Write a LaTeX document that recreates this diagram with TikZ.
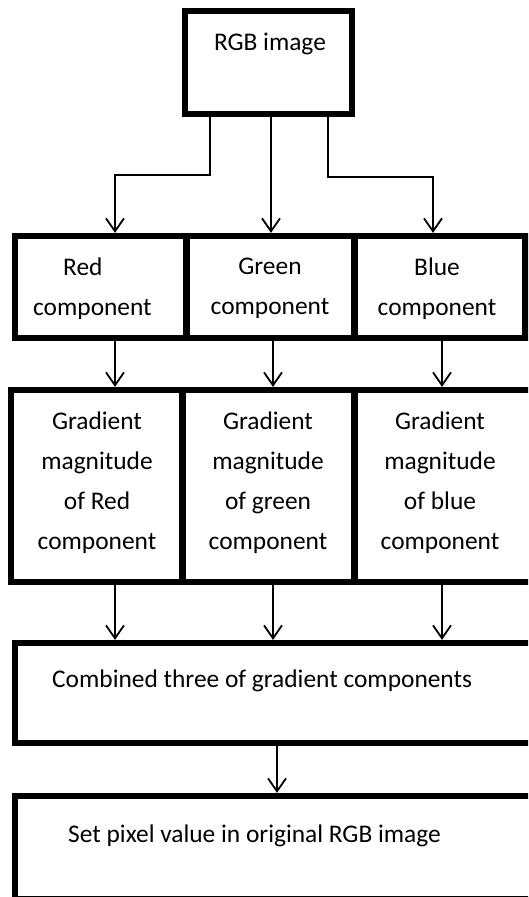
\documentclass[tikz,border=0pt]{standalone}
\usepackage{fontspec}
\setmainfont{Carlito}
\usetikzlibrary{arrows.meta}
\begin{document}
\begin{tikzpicture}[x=1pt,y=-1pt,
  box/.style={draw=black,line width=6.2pt,inner sep=0pt,fill=none},
  txt/.style={inner sep=0pt,font=\fontsize{25.4}{40}\selectfont},
  conn/.style={line width=1.8pt,-{Straight Barb[length=13pt,width=18pt]}}]
\useasboundingbox (0,0) rectangle (528,897);
\clip (0,0) rectangle (528,897);

% arrow columns
\coordinate (t1) at (210,0);
\coordinate (t2) at (271,0);
\coordinate (t3) at (328,0);
\coordinate (cA) at (115,0);
\coordinate (cB) at (273,0);
\coordinate (cC) at (442,0);
\coordinate (cT) at (433,0);
\coordinate (cD) at (277,0);

% source image
\node[box,minimum width=167pt,minimum height=103pt] (rgb) at (268.5,62.5) {};
\node[txt,anchor=base] (rgbt) at (270,50) {RGB image};

% colour components
\node[box,minimum width=171.5pt,minimum height=102pt] (red) at (100.75,287) {};
\node[box,minimum width=168pt,minimum height=102pt] (green) at (270.5,287) {};
\node[box,minimum width=171pt,minimum height=102pt] (blue) at (440,287) {};
\node[txt,align=left,anchor=west] (redt) at (33,288.5) {\hspace*{30pt}Red\\component};
\node[txt,align=center] (greent) at (270,288.5) {Green\\component};
\node[txt,align=center] (bluet) at (437,288.5) {Blue\\component};

% gradient magnitudes
\node[box,minimum width=171.5pt,minimum height=192pt] (gr) at (96.75,486) {};
\node[box,minimum width=172pt,minimum height=192pt] (gg) at (268.5,486) {};
\node[box,minimum width=205.5pt,minimum height=192pt] (gb) at (457.25,486) {};
\node[txt,align=center] (grt) at (97,482.5) {Gradient\\magnitude\\of Red\\component};
\node[txt,align=center] (ggt) at (268,482.5) {Gradient\\magnitude\\of green\\component};
\node[txt,align=center] (gbt) at (440,482.5) {Gradient\\magnitude\\of blue\\component};

% combination and output
\node[box,minimum width=545pt,minimum height=100pt] (comb) at (287.5,693) {};
\node[txt,anchor=base west] (combt) at (52,687) {Combined three of gradient components};
\node[box,minimum width=545pt,minimum height=103pt] (fin) at (287.5,847.5) {};
\node[txt,anchor=base west] (fint) at (68,842) {Set pixel value in original RGB image};

% connectors
\draw[conn] (rgb.south -| t1) -- ++(0,58) -| (red.north -| cA);
\draw[conn] (rgb.south -| t2) -- (green.north -| t2);
\draw[conn] (rgb.south -| t3) -- ++(0,60) -| (blue.north -| cT);

\draw[conn] (red.south -| cA) -- (gr.north -| cA);
\draw[conn] (green.south -| cB) -- (gg.north -| cB);
\draw[conn] (blue.south -| cC) -- (gb.north -| cC);

\draw[conn] (gr.south -| cA) -- (comb.north -| cA);
\draw[conn] (gg.south -| cB) -- (comb.north -| cB);
\draw[conn] (gb.south -| cC) -- (comb.north -| cC);

\draw[conn] (comb.south -| cD) -- (fin.north -| cD);
\end{tikzpicture}
\end{document}
